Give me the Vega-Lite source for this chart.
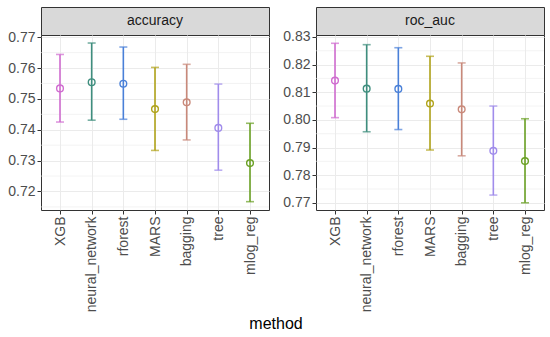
{
  "$schema": "https://vega.github.io/schema/vega-lite/v6.json",
  "padding": {"left": 7, "top": 6, "right": 5, "bottom": 3},
  "background": "white",
  "datasets": {
    "scores": [
      {"metric": "accuracy", "method": "XGB", "mean": 0.7534, "lower": 0.7425, "upper": 0.7644},
      {"metric": "accuracy", "method": "neural_network", "mean": 0.7554, "lower": 0.7431, "upper": 0.7681},
      {"metric": "accuracy", "method": "rforest", "mean": 0.7549, "lower": 0.7434, "upper": 0.7668},
      {"metric": "accuracy", "method": "MARS", "mean": 0.7467, "lower": 0.7333, "upper": 0.7602},
      {"metric": "accuracy", "method": "bagging", "mean": 0.7489, "lower": 0.7367, "upper": 0.7612},
      {"metric": "accuracy", "method": "tree", "mean": 0.7406, "lower": 0.7269, "upper": 0.7548},
      {"metric": "accuracy", "method": "mlog_reg", "mean": 0.7292, "lower": 0.7167, "upper": 0.7421},
      {"metric": "roc_auc", "method": "XGB", "mean": 0.8142, "lower": 0.8008, "upper": 0.8277},
      {"metric": "roc_auc", "method": "neural_network", "mean": 0.8113, "lower": 0.7957, "upper": 0.8272},
      {"metric": "roc_auc", "method": "rforest", "mean": 0.8112, "lower": 0.7965, "upper": 0.8261},
      {"metric": "roc_auc", "method": "MARS", "mean": 0.8059, "lower": 0.7891, "upper": 0.8230},
      {"metric": "roc_auc", "method": "bagging", "mean": 0.8038, "lower": 0.7870, "upper": 0.8206},
      {"metric": "roc_auc", "method": "tree", "mean": 0.7888, "lower": 0.7728, "upper": 0.8050},
      {"metric": "roc_auc", "method": "mlog_reg", "mean": 0.7851, "lower": 0.7700, "upper": 0.8004}
    ],
    "panels": [{"metric": "accuracy"}, {"metric": "roc_auc"}],
    "minor": [
      {"metric": "accuracy", "value": 0.715}, {"metric": "accuracy", "value": 0.725}, {"metric": "accuracy", "value": 0.735},
      {"metric": "accuracy", "value": 0.745}, {"metric": "accuracy", "value": 0.755}, {"metric": "accuracy", "value": 0.765},
      {"metric": "roc_auc", "value": 0.775}, {"metric": "roc_auc", "value": 0.785}, {"metric": "roc_auc", "value": 0.795},
      {"metric": "roc_auc", "value": 0.805}, {"metric": "roc_auc", "value": 0.815}, {"metric": "roc_auc", "value": 0.825}
    ]
  },
  "title": {"text": "method", "orient": "bottom", "anchor": "middle", "fontSize": 16, "fontWeight": "normal", "font": "Liberation Sans", "color": "#000000", "offset": 4},
  "config": {
    "font": "Liberation Sans",
    "view": {"stroke": null},
    "axisX": {
      "domain": false, "grid": true, "gridColor": "#EBEBEB", "gridWidth": 1,
      "tickSize": 4, "tickColor": "#333333", "tickWidth": 1,
      "labelColor": "#4D4D4D", "labelFontSize": 14, "labelPadding": 2,
      "labelAngle": 270, "labelAlign": "right", "labelBaseline": "middle", "title": null
    },
    "axisY": {
      "domain": false, "grid": true, "gridColor": "#EBEBEB", "gridWidth": 1,
      "tickSize": 4, "tickColor": "#333333", "tickWidth": 1,
      "labelColor": "#4D4D4D", "labelFontSize": 14, "labelPadding": 2,
      "labelOverlap": false, "format": ".2f",
      "title": null
    }
  },
  "spacing": 12,
  "hconcat": [
    {
      "spacing": 0,
      "bounds": "flush",
      "vconcat": [
        {
          "width": 228, "height": 28,
          "view": {"fill": "#D9D9D9", "stroke": "#333333", "strokeWidth": 1},
          "data": {"name": "panels"},
          "transform": [{"filter": "datum.metric == 'accuracy'"}],
          "mark": {"type": "text", "fontSize": 14, "color": "#1A1A1A", "baseline": "middle", "align": "center"},
          "encoding": {"text": {"field": "metric", "type": "nominal"}}
        },
        {
          "width": 228, "height": 175,
          "view": {"fill": "white", "stroke": "#333333", "strokeWidth": 1},
          "layer": [
            {"data": {"name": "minor"},
             "transform": [{"filter": "datum.metric == 'accuracy'"}],
             "mark": {"type": "rule", "color": "#EBEBEB", "strokeWidth": 0.6},
             "encoding": {"y": {"field": "value", "type": "quantitative", "title": null,
                                "scale": {"domain": [0.714, 0.7707], "nice": false, "zero": false},
                                "axis": {"values": [0.72, 0.73, 0.74, 0.75, 0.76, 0.77]}}}},
            {
              "data": {"name": "scores"},
              "transform": [{"filter": "datum.metric == 'accuracy'"}],
              "encoding": {
                "x": {"field": "method", "type": "nominal", "title": null,
                      "scale": {"type": "point", "padding": 0.6, "domain": ["XGB", "neural_network", "rforest", "MARS", "bagging", "tree", "mlog_reg"]}},
                "color": {"field": "method", "type": "nominal", "legend": null,
                          "scale": {"domain": ["XGB", "neural_network", "rforest", "MARS", "bagging", "tree", "mlog_reg"],
                                    "range": ["#D06CD0", "#3E8E7E", "#4A80D8", "#B0A31A", "#C9897A", "#A08CEB", "#6AA024"]}}
              },
              "layer": [
                {"mark": {"type": "rule", "strokeWidth": 1.6},
                 "encoding": {"y": {"field": "lower", "type": "quantitative", "title": null, "axis": {"values": [0.72, 0.73, 0.74, 0.75, 0.76, 0.77]}}, "y2": {"field": "upper"}}},
                {"mark": {"type": "tick", "orient": "horizontal", "size": 8, "thickness": 1.6},
                 "encoding": {"y": {"field": "lower", "type": "quantitative", "title": null, "axis": {"values": [0.72, 0.73, 0.74, 0.75, 0.76, 0.77]}}}},
                {"mark": {"type": "tick", "orient": "horizontal", "size": 8, "thickness": 1.6},
                 "encoding": {"y": {"field": "upper", "type": "quantitative", "title": null, "axis": {"values": [0.72, 0.73, 0.74, 0.75, 0.76, 0.77]}}}},
                {"mark": {"type": "point", "shape": "circle", "filled": false, "size": 45, "strokeWidth": 1.4, "opacity": 1},
                 "encoding": {"y": {"field": "mean", "type": "quantitative", "title": null, "axis": {"values": [0.72, 0.73, 0.74, 0.75, 0.76, 0.77]}}}}
              ]
            }
          ]
        }
      ]
    },
    {
      "spacing": 0,
      "bounds": "flush",
      "vconcat": [
        {
          "width": 228, "height": 28,
          "view": {"fill": "#D9D9D9", "stroke": "#333333", "strokeWidth": 1},
          "data": {"name": "panels"},
          "transform": [{"filter": "datum.metric == 'roc_auc'"}],
          "mark": {"type": "text", "fontSize": 14, "color": "#1A1A1A", "baseline": "middle", "align": "center"},
          "encoding": {"text": {"field": "metric", "type": "nominal"}}
        },
        {
          "width": 228, "height": 175,
          "view": {"fill": "white", "stroke": "#333333", "strokeWidth": 1},
          "layer": [
            {"data": {"name": "minor"},
             "transform": [{"filter": "datum.metric == 'roc_auc'"}],
             "mark": {"type": "rule", "color": "#EBEBEB", "strokeWidth": 0.6},
             "encoding": {"y": {"field": "value", "type": "quantitative", "title": null,
                                "scale": {"domain": [0.7674, 0.8307], "nice": false, "zero": false},
                                "axis": {"values": [0.77, 0.78, 0.79, 0.8, 0.81, 0.82, 0.83]}}}},
            {
              "data": {"name": "scores"},
              "transform": [{"filter": "datum.metric == 'roc_auc'"}],
              "encoding": {
                "x": {"field": "method", "type": "nominal", "title": null,
                      "scale": {"type": "point", "padding": 0.6, "domain": ["XGB", "neural_network", "rforest", "MARS", "bagging", "tree", "mlog_reg"]}},
                "color": {"field": "method", "type": "nominal", "legend": null,
                          "scale": {"domain": ["XGB", "neural_network", "rforest", "MARS", "bagging", "tree", "mlog_reg"],
                                    "range": ["#D06CD0", "#3E8E7E", "#4A80D8", "#B0A31A", "#C9897A", "#A08CEB", "#6AA024"]}}
              },
              "layer": [
                {"mark": {"type": "rule", "strokeWidth": 1.6},
                 "encoding": {"y": {"field": "lower", "type": "quantitative", "title": null, "axis": {"values": [0.77, 0.78, 0.79, 0.8, 0.81, 0.82, 0.83]}}, "y2": {"field": "upper"}}},
                {"mark": {"type": "tick", "orient": "horizontal", "size": 8, "thickness": 1.6},
                 "encoding": {"y": {"field": "lower", "type": "quantitative", "title": null, "axis": {"values": [0.77, 0.78, 0.79, 0.8, 0.81, 0.82, 0.83]}}}},
                {"mark": {"type": "tick", "orient": "horizontal", "size": 8, "thickness": 1.6},
                 "encoding": {"y": {"field": "upper", "type": "quantitative", "title": null, "axis": {"values": [0.77, 0.78, 0.79, 0.8, 0.81, 0.82, 0.83]}}}},
                {"mark": {"type": "point", "shape": "circle", "filled": false, "size": 45, "strokeWidth": 1.4, "opacity": 1},
                 "encoding": {"y": {"field": "mean", "type": "quantitative", "title": null, "axis": {"values": [0.77, 0.78, 0.79, 0.8, 0.81, 0.82, 0.83]}}}}
              ]
            }
          ]
        }
      ]
    }
  ]
}
